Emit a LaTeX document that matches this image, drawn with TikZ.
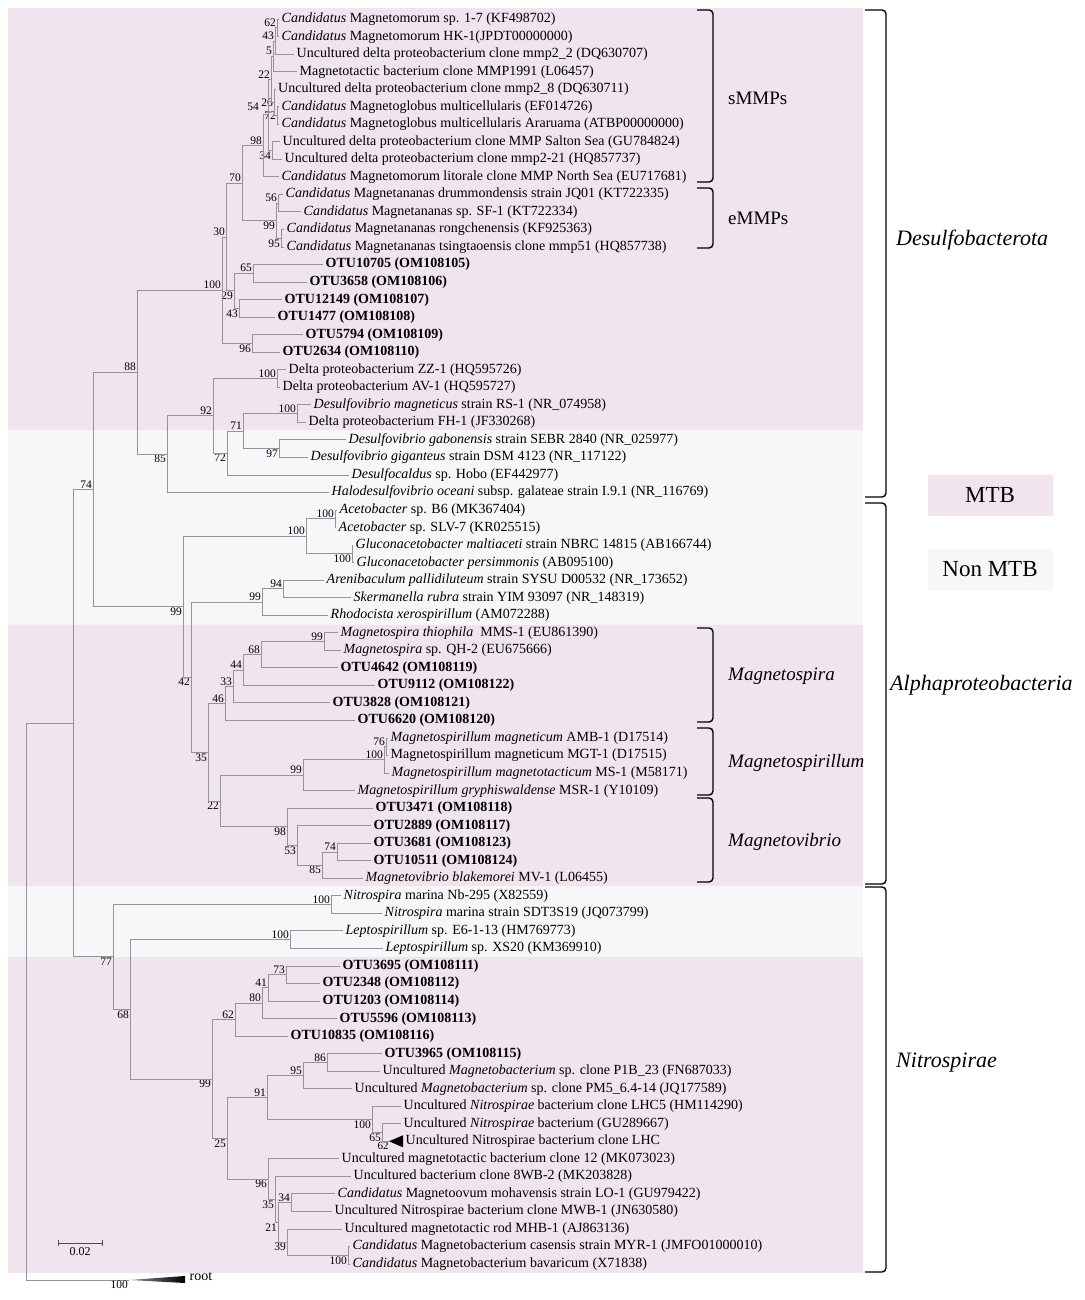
\documentclass[tikz,border=0pt]{standalone}
\usepackage{fontspec}
\setmainfont{Liberation Serif}
\usetikzlibrary{positioning, calc}
\definecolor{mtbpink}{RGB}{240,228,238}
\definecolor{nonmtb}{RGB}{247,247,250}
\definecolor{treegray}{RGB}{150,146,156}
\tikzstyle{tip} = [anchor=west, inner xsep=2.5pt, inner ysep=0pt,
    text height=10pt, text depth=3pt, font=\fontsize{14}{16}\selectfont]
\tikzstyle{boot} = [inner sep=1pt, font=\fontsize{11.5}{12}\selectfont]
\tikzstyle{branch} = [draw=treegray, line width=0.8pt]
\tikzstyle{bracket} = [draw=black, line width=1.4pt, rounded corners=4pt]
\tikzstyle{group} = [anchor=west, inner sep=0pt, font=\fontsize{19}{22}\selectfont]
\tikzstyle{phylum} = [anchor=west, inner sep=0pt,
    font=\fontsize{22}{26}\selectfont\itshape]
\tikzstyle{legend} = [minimum width=125pt, minimum height=41pt, inner sep=0pt,
    font=\fontsize{23}{26}\selectfont]
% clade: name, x, child, child, bootstrap, label position
\newcommand{\clade}[6]{%
    \path let \p1=($(#3)!0.5!(#4)$) in coordinate (#1) at (#2pt,\y1);
    \draw[branch] (#1) |- (#3) (#1) |- (#4);
    \node[boot,#6] (b#1) at (#1) {#5};}
\newcommand{\bracketline}[4]{\draw[bracket] (#1,#3) -- (#2,#3) -- (#2,#4) -- (#1,#4);}

\begin{document}
\begin{tikzpicture}[x=1pt, y=-1pt]
    \useasboundingbox (0,0) rectangle (1084,1300);
    % background bands
    \fill[mtbpink] (8,8) rectangle (863,430);
    \fill[nonmtb] (8,430) rectangle (863,625);
    \fill[mtbpink] (8,625) rectangle (863,886);
    \fill[nonmtb] (8,886) rectangle (863,957);
    \fill[mtbpink] (8,957) rectangle (863,1273);

    % tips
    \foreach \tx/\lbl [count=\i] in {
        279/{\textit{Candidatus} Magnetomorum sp. 1-7 (KF498702)},
        279/{\textit{Candidatus} Magnetomorum HK-1(JPDT00000000)},
        294/{Uncultured delta proteobacterium clone mmp2\_2 (DQ630707)},
        297/{Magnetotactic bacterium clone MMP1991 (L06457)},
        275.5/{Uncultured delta proteobacterium clone mmp2\_8 (DQ630711)},
        279/{\textit{Candidatus} Magnetoglobus multicellularis (EF014726)},
        279/{\textit{Candidatus} Magnetoglobus multicellularis Araruama (ATBP00000000)},
        280/{Uncultured delta proteobacterium clone MMP Salton Sea (GU784824)},
        282/{Uncultured delta proteobacterium clone mmp2-21 (HQ857737)},
        279/{\textit{Candidatus} Magnetomorum litorale clone MMP North Sea (EU717681)},
        283/{\textit{Candidatus} Magnetananas drummondensis strain JQ01 (KT722335)},
        301/{\textit{Candidatus} Magnetananas sp. SF-1 (KT722334)},
        284/{\textit{Candidatus} Magnetananas rongchenensis (KF925363)},
        284/{\textit{Candidatus} Magnetananas tsingtaoensis clone mmp51 (HQ857738)},
        323/{\textbf{OTU10705 (OM108105)}},
        307/{\textbf{OTU3658 (OM108106)}},
        282/{\textbf{OTU12149 (OM108107)}},
        275/{\textbf{OTU1477 (OM108108)}},
        303/{\textbf{OTU5794 (OM108109)}},
        280/{\textbf{OTU2634 (OM108110)}},
        286/{Delta proteobacterium ZZ-1 (HQ595726)},
        280/{Delta proteobacterium AV-1 (HQ595727)},
        311/{\textit{Desulfovibrio magneticus} strain RS-1 (NR\_074958)},
        306/{Delta proteobacterium FH-1 (JF330268)},
        346/{\textit{Desulfovibrio gabonensis} strain SEBR 2840 (NR\_025977)},
        308/{\textit{Desulfovibrio giganteus} strain DSM 4123 (NR\_117122)},
        349/{\textit{Desulfocaldus} sp. Hobo (EF442977)},
        329/{\textit{Halodesulfovibrio oceani} subsp. galateae strain I.9.1 (NR\_116769)},
        337/{\textit{Acetobacter} sp. B6 (MK367404)},
        336/{\textit{Acetobacter} sp. SLV-7 (KR025515)},
        353/{\textit{Gluconacetobacter maltiaceti} strain NBRC 14815 (AB166744)},
        354/{\textit{Gluconacetobacter persimmonis} (AB095100)},
        324/{\textit{Arenibaculum pallidiluteum} strain SYSU D00532 (NR\_173652)},
        351/{\textit{Skermanella rubra} strain YIM 93097 (NR\_148319)},
        328/{\textit{Rhodocista xerospirillum} (AM072288)},
        338/{\textit{Magnetospira thiophila}~ MMS-1 (EU861390)},
        341/{\textit{Magnetospira} sp. QH-2 (EU675666)},
        338/{\textbf{OTU4642 (OM108119)}},
        375/{\textbf{OTU9112 (OM108122)}},
        330/{\textbf{OTU3828 (OM108121)}},
        355/{\textbf{OTU6620 (OM108120)}},
        388/{\textit{Magnetospirillum magneticum} AMB-1 (D17514)},
        388/{Magnetospirillum magneticum MGT-1 (D17515)},
        389/{\textit{Magnetospirillum magnetotacticum} MS-1 (M58171)},
        355/{\textit{Magnetospirillum gryphiswaldense} MSR-1 (Y10109)},
        373/{\textbf{OTU3471 (OM108118)}},
        371/{\textbf{OTU2889 (OM108117)}},
        371/{\textbf{OTU3681 (OM108123)}},
        371/{\textbf{OTU10511 (OM108124)}},
        363/{\textit{Magnetovibrio blakemorei} MV-1 (L06455)},
        341/{\textit{Nitrospira} marina Nb-295 (X82559)},
        382/{\textit{Nitrospira} marina strain SDT3S19 (JQ073799)},
        343/{\textit{Leptospirillum} sp. E6-1-13 (HM769773)},
        383/{\textit{Leptospirillum} sp. XS20 (KM369910)},
        340/{\textbf{OTU3695 (OM108111)}},
        320/{\textbf{OTU2348 (OM108112)}},
        320/{\textbf{OTU1203 (OM108114)}},
        337/{\textbf{OTU5596 (OM108113)}},
        288/{\textbf{OTU10835 (OM108116)}},
        382/{\textbf{OTU3965 (OM108115)}},
        380/{Uncultured \textit{Magnetobacterium} sp. clone P1B\_23 (FN687033)},
        352/{Uncultured \textit{Magnetobacterium} sp. clone PM5\_6.4-14 (JQ177589)},
        401/{Uncultured \textit{Nitrospirae} bacterium clone LHC5 (HM114290)},
        401/{Uncultured \textit{Nitrospirae} bacterium (GU289667)},
        403/{Uncultured Nitrospirae bacterium clone LHC},
        339/{Uncultured magnetotactic bacterium clone 12 (MK073023)},
        351/{Uncultured bacterium clone 8WB-2 (MK203828)},
        335/{\textit{Candidatus} Magnetoovum mohavensis strain LO-1 (GU979422)},
        332/{Uncultured Nitrospirae bacterium clone MWB-1 (JN630580)},
        342/{Uncultured magnetotactic rod MHB-1 (AJ863136)},
        350/{\textit{Candidatus} Magnetobacterium casensis strain MYR-1 (JMFO01000010)},
        350/{\textit{Candidatus} Magnetobacterium bavaricum (X71838)}}
        \node[tip] (tip\i) at (\tx,{19+(\i-1)*17.535}) {\lbl};

    % Desulfobacterota
    \clade{n62}{277}{tip1}{tip2}{62}{above left}
    \clade{n43}{275}{n62}{tip3}{43}{above left}
    \clade{n5}{273}{n43}{tip4}{5}{above left}
    \clade{n72}{277}{tip6}{tip7}{72}{left}
    \clade{n26}{274}{tip5}{n72}{26}{left}
    \clade{n22}{271}{n5}{n26}{22}{above left}
    \clade{n34}{272}{tip8}{tip9}{34}{below left}
    \clade{n54}{268}{n22}{n34}{54}{above left, xshift=-8pt, yshift=3pt}
    \clade{n98}{263}{n54}{tip10}{98}{above left}
    \clade{n56}{278}{tip11}{tip12}{56}{above left}
    \clade{n95}{281}{tip13}{tip14}{95}{below left}
    \clade{ne99}{276}{n56}{n95}{99}{below left}
    \clade{n70}{242}{n98}{ne99}{70}{above left}
    \clade{n65}{253}{tip15}{tip16}{65}{above left}
    \clade{no43}{239}{tip17}{tip18}{43}{below left}
    \clade{n29}{234}{n65}{no43}{29}{below left}
    \clade{n30}{226}{n70}{n29}{30}{above left}
    \clade{n96}{252}{tip19}{tip20}{96}{below left}
    \clade{n100}{222}{n30}{n96}{100}{above left}
    \clade{nz100}{277}{tip21}{tip22}{100}{above left}
    \clade{nd100}{297}{tip23}{tip24}{100}{above left}
    \clade{n97}{279}{tip25}{tip26}{97}{below left}
    \clade{n71}{243}{nd100}{n97}{71}{above left}
    \clade{nd72}{227}{n71}{tip27}{72}{below left}
    \clade{n92}{213}{nz100}{nd72}{92}{above left}
    \clade{n85}{167}{n92}{tip28}{85}{below left}
    \clade{n88}{137}{n100}{n85}{88}{above left}

    % Alphaproteobacteria
    \clade{nac100}{335}{tip29}{tip30}{100}{above left}
    \clade{ngl100}{352}{tip31}{tip32}{100}{below left}
    \clade{nag100}{306}{nac100}{ngl100}{100}{above left}
    \clade{nar94}{283}{tip33}{tip34}{94}{above left}
    \clade{nar99}{262}{nar94}{tip35}{99}{above left}
    \clade{nms99}{324}{tip36}{tip37}{99}{above left}
    \clade{n68}{261}{nms99}{tip38}{68}{above left}
    \clade{n44}{243}{n68}{tip39}{44}{above left}
    \clade{n33}{233}{n44}{tip40}{33}{above left}
    \clade{n46}{225}{n33}{tip41}{46}{above left}
    \clade{nmm76}{386}{tip42}{tip43}{76}{above left}
    \clade{nmm100}{384}{nmm76}{tip44}{100}{above left}
    \clade{nsp99}{303}{nmm100}{tip45}{99}{above left}
    \clade{nv74}{337}{tip48}{tip49}{74}{above left}
    \clade{nv85}{322}{nv74}{tip50}{85}{below left}
    \clade{n53}{297}{tip47}{nv85}{53}{below left}
    \clade{nv98}{287}{tip46}{n53}{98}{below left}
    \clade{na22}{220}{nsp99}{nv98}{22}{below left}
    \clade{n35}{208}{n46}{na22}{35}{below left}
    \clade{n42}{191}{nar99}{n35}{42}{below left}
    \clade{na99}{183}{nag100}{n42}{99}{below left}
    \clade{n74}{93}{n88}{na99}{74}{above left}

    % Nitrospirae
    \coordinate (tri) at (389,{19+64*17.535});
    \fill (tri) -- ($(tri)+(14,-6)$) -- ($(tri)+(14,6)$) -- cycle;
    \node[boot, anchor=north, inner sep=0pt, font=\fontsize{11}{11}\selectfont]
        (btri) at ($(tri)+(-6,0.5)$) {62};
    \clade{nni100}{331}{tip51}{tip52}{100}{above left}
    \clade{nle100}{290}{tip53}{tip54}{100}{above left}
    \clade{n73}{286}{tip55}{tip56}{73}{above left}
    \clade{n41}{268}{n73}{tip57}{41}{above left}
    \clade{n80}{262}{n41}{tip58}{80}{above left}
    \clade{nn62}{235}{n80}{tip59}{62}{above left}
    \clade{n86}{327}{tip60}{tip61}{86}{above left}
    \clade{nn95}{303}{n86}{tip62}{95}{above left}
    \clade{nn65}{382}{tip64}{tri}{65}{below left}
    \clade{nn100}{372}{tip63}{nn65}{100}{below left}
    \clade{n91}{267}{nn95}{nn100}{91}{above left}
    \clade{nn34}{291}{tip68}{tip69}{34}{above left}
    \clade{nmb100}{348}{tip71}{tip72}{100}{below left}
    \clade{n39}{287}{tip70}{nmb100}{39}{below left}
    \clade{n21}{278}{nn34}{n39}{21}{below left}
    \clade{nn35}{275}{tip67}{n21}{35}{below left}
    \clade{nn96}{268}{tip66}{nn35}{96}{below left}
    \clade{n25}{227}{n91}{nn96}{25}{below left}
    \clade{nn99}{212}{nn62}{n25}{99}{below left}
    \clade{nn68}{130}{nle100}{nn99}{68}{below left}
    \clade{n77}{113}{nni100}{nn68}{77}{below left}

    % root
    \path let \p1=($(n74)!0.5!(n77)$) in coordinate (nin) at (73pt,\y1);
    \draw[branch] (nin) |- (n74) (nin) |- (n77);
    \coordinate (og) at (129,1280);
    \path let \p1=($(nin)!0.5!(og)$) in coordinate (root) at (26pt,\y1);
    \draw[branch] (root) |- (nin) (root) |- (og);
    \shade[left color=treegray, right color=black] (og) -- (185,1276) -- (185,1283) -- cycle;
    \node[tip] (rootlbl) at (187,1277) {root};
    \node[boot, below left] (bog) at (og) {100};

    % scale bar
    \coordinate (sb1) at (58,1243);
    \coordinate (sb2) at (102,1243);
    \draw[branch, black!70] (sb1) -- (sb2)
        (sb1) ++(0,-3) -- ++(0,6) (sb2) ++(0,-3) -- ++(0,6);
    \node[boot, font=\fontsize{12}{13}\selectfont, below=3pt] (sblbl)
        at ($(sb1)!0.5!(sb2)$) {0.02};

    % clade brackets
    \bracketline{697}{713}{10}{182}
    \node[group] (smmp) at (728,98) {sMMPs};
    \bracketline{697}{713}{188}{248}
    \node[group] (emmp) at (728,218) {eMMPs};
    \bracketline{697}{713}{628}{722}
    \node[group, font=\fontsize{19}{22}\selectfont\itshape] (mspira) at (728,676) {Magnetospira};
    \bracketline{697}{713}{728}{795}
    \node[group, font=\fontsize{19}{22}\selectfont\itshape] (mspirillum) at (728,763) {Magnetospirillum};
    \bracketline{697}{713}{798}{882}
    \node[group, font=\fontsize{19}{22}\selectfont\itshape] (mvibrio) at (728,842) {Magnetovibrio};
    \bracketline{865}{886}{10}{497}
    \node[phylum] (desulfo) at (896,240) {Desulfobacterota};
    \bracketline{865}{886}{503}{884}
    \node[phylum] (alpha) at (890,685) {Alphaproteobacteria};
    \bracketline{865}{886}{887}{1272}
    \node[phylum] (nitro) at (896,1063) {Nitrospirae};

    % legend
    \node[legend, fill=mtbpink] (mtb) at (990,495) {MTB};
    \node[legend, fill=nonmtb] (nonmtb) at (990,569) {Non MTB};
\end{tikzpicture}
\end{document}
